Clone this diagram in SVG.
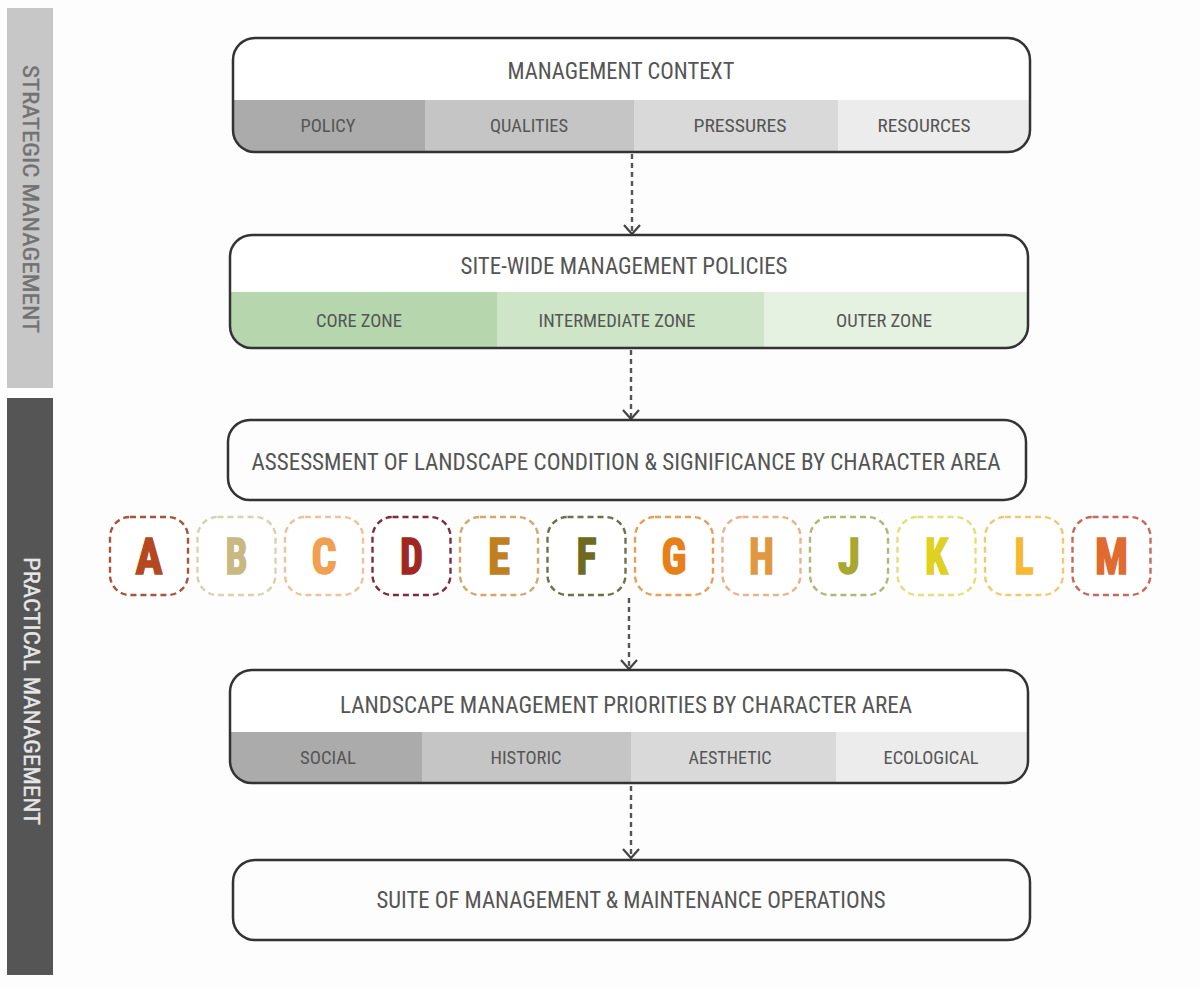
<svg xmlns="http://www.w3.org/2000/svg" width="1200" height="987" viewBox="0 0 1200 987">
<style>
.t{font-family:"Liberation Sans Narrow","Roboto Condensed","Liberation Sans",sans-serif;fill:#555;text-anchor:middle;dominant-baseline:central}
.tt{font-size:23px}
.ts{font-size:19px}
.box{fill:none;stroke:#333;stroke-width:2.5}
.lt{font-family:"Liberation Sans Narrow","Roboto Condensed","Liberation Sans",sans-serif;font-weight:bold;font-size:50px;text-anchor:middle;stroke-width:1.6;paint-order:stroke}
.lb{fill:#fff;stroke-width:2.4;stroke-dasharray:6 4}
.conn{stroke:#555;stroke-width:2.4;stroke-dasharray:5 4;fill:none}
</style>
<defs>
<marker id="ah" markerWidth="16" markerHeight="18" refX="11" refY="9" orient="auto" markerUnits="userSpaceOnUse" viewBox="0 0 16 18">
<path d="M2,1 L11,9 L2,17" fill="none" stroke="#444" stroke-width="2.2"/>
</marker>
<clipPath id="c1"><rect x="233" y="38" width="797" height="114" rx="22"/></clipPath>
<clipPath id="c2"><rect x="230" y="235" width="798" height="113" rx="22"/></clipPath>
<clipPath id="c4"><rect x="230" y="670" width="798" height="113" rx="22"/></clipPath>
</defs>
<rect width="1200" height="987" fill="#fdfdfd"/>

<g id="strategic">
<rect x="7" y="8" width="46" height="380" fill="#c8c7c7"/>
<text class="t" transform="translate(30,199) rotate(90)" style="font-size:22px;fill:#727272;stroke:#727272;stroke-width:0.4" textLength="268" lengthAdjust="spacingAndGlyphs">STRATEGIC MANAGEMENT</text>
</g>
<g id="practical">
<rect x="7" y="398" width="46" height="577" fill="#555555"/>
<text class="t" transform="translate(31,691) rotate(90)" style="font-size:22px;fill:#e6e6e6;stroke:#e6e6e6;stroke-width:0.4" textLength="268" lengthAdjust="spacingAndGlyphs">PRACTICAL MANAGEMENT</text>
</g>

<g id="connectors">
<line class="conn" x1="632" y1="154" x2="632" y2="234" marker-end="url(#ah)"/>
<line class="conn" x1="631" y1="350" x2="631" y2="419" marker-end="url(#ah)"/>
<line class="conn" x1="629" y1="598" x2="629" y2="669" marker-end="url(#ah)"/>
<line class="conn" x1="631" y1="786" x2="631" y2="858" marker-end="url(#ah)"/>
</g>

<g id="management-context">
<rect x="233" y="38" width="797" height="114" rx="22" fill="#fff"/>
<g clip-path="url(#c1)">
<rect x="233" y="100" width="192" height="52" fill="#ababab"/>
<rect x="425" y="100" width="209" height="52" fill="#c5c5c5"/>
<rect x="634" y="100" width="204" height="52" fill="#d9d9d9"/>
<rect x="838" y="100" width="192" height="52" fill="#ececec"/>
</g>
<rect class="box" x="233" y="38" width="797" height="114" rx="22"/>
<text class="t tt" x="621" y="71" textLength="227" lengthAdjust="spacingAndGlyphs">MANAGEMENT CONTEXT</text>
<text class="t ts" x="328" y="125" textLength="55" lengthAdjust="spacingAndGlyphs">POLICY</text>
<text class="t ts" x="529" y="125" textLength="78" lengthAdjust="spacingAndGlyphs">QUALITIES</text>
<text class="t ts" x="740" y="125" textLength="93" lengthAdjust="spacingAndGlyphs">PRESSURES</text>
<text class="t ts" x="924" y="125" textLength="93" lengthAdjust="spacingAndGlyphs">RESOURCES</text>
</g>

<g id="site-wide-policies">
<rect x="230" y="235" width="798" height="113" rx="22" fill="#fff"/>
<g clip-path="url(#c2)">
<rect x="230" y="292" width="267" height="56" fill="#b6d7ad"/>
<rect x="497" y="292" width="267" height="56" fill="#cee5c7"/>
<rect x="764" y="292" width="264" height="56" fill="#e5f1e1"/>
</g>
<rect class="box" x="230" y="235" width="798" height="113" rx="22"/>
<text class="t tt" x="624" y="266" textLength="327" lengthAdjust="spacingAndGlyphs">SITE-WIDE MANAGEMENT POLICIES</text>
<text class="t ts" x="359" y="320" textLength="86" lengthAdjust="spacingAndGlyphs">CORE ZONE</text>
<text class="t ts" x="617" y="320" textLength="157" lengthAdjust="spacingAndGlyphs">INTERMEDIATE ZONE</text>
<text class="t ts" x="884" y="320" textLength="96" lengthAdjust="spacingAndGlyphs">OUTER ZONE</text>
</g>

<g id="assessment">
<rect class="box" x="228" y="420" width="798" height="80" rx="22" fill="#fff"/>
<text class="t tt" x="626" y="462" textLength="749" lengthAdjust="spacingAndGlyphs">ASSESSMENT OF LANDSCAPE CONDITION &amp; SIGNIFICANCE BY CHARACTER AREA</text>
</g>

<g id="area-A"><rect class="lb" x="110" y="517" width="78" height="78" rx="20" stroke="#a5553a"/><text class="lt" x="149" y="574" fill="#b5481e" stroke="#b5481e" textLength="27" lengthAdjust="spacingAndGlyphs">A</text></g>
<g id="area-B"><rect class="lb" x="197.5" y="517" width="78" height="78" rx="20" stroke="#d6d3ae"/><text class="lt" x="236.5" y="574" fill="#c9b882" stroke="#c9b882" textLength="22" lengthAdjust="spacingAndGlyphs">B</text></g>
<g id="area-C"><rect class="lb" x="285" y="517" width="78" height="78" rx="20" stroke="#efc29a"/><text class="lt" x="324" y="574" fill="#f0a050" stroke="#f0a050" textLength="25" lengthAdjust="spacingAndGlyphs">C</text></g>
<g id="area-D"><rect class="lb" x="372.5" y="517" width="78" height="78" rx="20" stroke="#7a2e40"/><text class="lt" x="411.5" y="574" fill="#a02820" stroke="#a02820" textLength="23" lengthAdjust="spacingAndGlyphs">D</text></g>
<g id="area-E"><rect class="lb" x="460" y="517" width="78" height="78" rx="20" stroke="#d4a86a"/><text class="lt" x="499" y="574" fill="#c0801e" stroke="#c0801e" textLength="22" lengthAdjust="spacingAndGlyphs">E</text></g>
<g id="area-F"><rect class="lb" x="547.5" y="517" width="78" height="78" rx="20" stroke="#6e7048"/><text class="lt" x="586.5" y="574" fill="#6e6a1e" stroke="#6e6a1e" textLength="20" lengthAdjust="spacingAndGlyphs">F</text></g>
<g id="area-G"><rect class="lb" x="635" y="517" width="78" height="78" rx="20" stroke="#e8a058"/><text class="lt" x="674" y="574" fill="#e8801a" stroke="#e8801a" textLength="25" lengthAdjust="spacingAndGlyphs">G</text></g>
<g id="area-H"><rect class="lb" x="722.5" y="517" width="78" height="78" rx="20" stroke="#e8b48a"/><text class="lt" x="761.5" y="574" fill="#e09840" stroke="#e09840" textLength="25" lengthAdjust="spacingAndGlyphs">H</text></g>
<g id="area-J"><rect class="lb" x="810" y="517" width="78" height="78" rx="20" stroke="#b0b878"/><text class="lt" x="849" y="574" fill="#a8a830" stroke="#a8a830" textLength="22" lengthAdjust="spacingAndGlyphs">J</text></g>
<g id="area-K"><rect class="lb" x="897.5" y="517" width="78" height="78" rx="20" stroke="#e2e07a"/><text class="lt" x="936.5" y="574" fill="#e0d020" stroke="#e0d020" textLength="23" lengthAdjust="spacingAndGlyphs">K</text></g>
<g id="area-L"><rect class="lb" x="985" y="517" width="78" height="78" rx="20" stroke="#f0ca70"/><text class="lt" x="1024" y="574" fill="#f8b830" stroke="#f8b830" textLength="19" lengthAdjust="spacingAndGlyphs">L</text></g>
<g id="area-M"><rect class="lb" x="1072.5" y="517" width="78" height="78" rx="20" stroke="#c8685a"/><text class="lt" x="1111.5" y="574" fill="#e06a30" stroke="#e06a30" textLength="33" lengthAdjust="spacingAndGlyphs">M</text></g>

<g id="priorities">
<rect x="230" y="670" width="798" height="113" rx="22" fill="#fff"/>
<g clip-path="url(#c4)">
<rect x="230" y="732" width="192" height="51" fill="#ababab"/>
<rect x="422" y="732" width="209" height="51" fill="#c5c5c5"/>
<rect x="631" y="732" width="205" height="51" fill="#d9d9d9"/>
<rect x="836" y="732" width="192" height="51" fill="#ececec"/>
</g>
<rect class="box" x="230" y="670" width="798" height="113" rx="22"/>
<text class="t tt" x="626" y="705" textLength="572" lengthAdjust="spacingAndGlyphs">LANDSCAPE MANAGEMENT PRIORITIES BY CHARACTER AREA</text>
<text class="t ts" x="328" y="757" textLength="56" lengthAdjust="spacingAndGlyphs">SOCIAL</text>
<text class="t ts" x="526" y="757" textLength="71" lengthAdjust="spacingAndGlyphs">HISTORIC</text>
<text class="t ts" x="730" y="757" textLength="83" lengthAdjust="spacingAndGlyphs">AESTHETIC</text>
<text class="t ts" x="931" y="757" textLength="95" lengthAdjust="spacingAndGlyphs">ECOLOGICAL</text>
</g>

<g id="operations">
<rect class="box" x="233" y="860" width="797" height="80" rx="22" fill="#fff"/>
<text class="t tt" x="631" y="900" textLength="509" lengthAdjust="spacingAndGlyphs">SUITE OF MANAGEMENT &amp; MAINTENANCE OPERATIONS</text>
</g>
</svg>
